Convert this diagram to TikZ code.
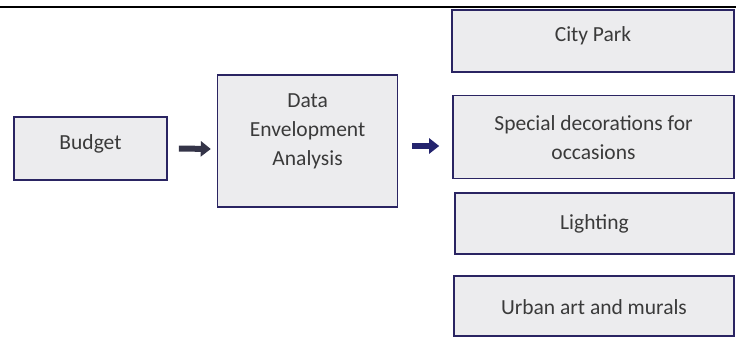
\documentclass[tikz,border=0pt]{standalone}
\usepackage{fontspec}
\setmainfont{Carlito}
\usetikzlibrary{arrows.meta, positioning}
\definecolor{boxline}{RGB}{42,36,98}
\definecolor{boxfill}{RGB}{236,236,238}
\definecolor{boxtext}{RGB}{58,58,58}
\definecolor{arrowgray}{RGB}{52,52,72}
\definecolor{arrownavy}{RGB}{36,36,110}
\tikzstyle{block} = [draw=boxline, fill=boxfill, line width=1.6pt, rectangle]
\tikzstyle{boxlabel} = [align=center, text=boxtext, inner sep=0pt,
    font=\fontsize{21.5pt}{29pt}\selectfont]
\tikzstyle{bigarrow} = [line width=6pt, -{Triangle[length=10pt, width=15pt]}]

\begin{document}
\begin{tikzpicture}[x=1pt, y=1pt]
    \useasboundingbox (0,0) rectangle (736,338);
    \draw [line width=1.4pt] (0,331) -- (736,331);

    % Place the blocks
    \node [block, minimum width=153pt, minimum height=63pt,
        label={[boxlabel, yshift=5pt]center:Budget}] (budget) at (90.5,189.5) {};
    \node [block, minimum width=180pt, minimum height=132pt, right=49pt of budget.east, anchor=west, yshift=7.5pt,
        label={[boxlabel, yshift=10pt]center:Data\\Envelopment\\Analysis}] (dea) {};
    \node [block, minimum width=282pt, minimum height=62pt,
        label={[boxlabel, yshift=5pt]center:City Park}] (park) at (593,297) {};
    \node [block, minimum width=281pt, minimum height=83pt,
        label={[boxlabel, yshift=-1pt]center:Special decorations for\\occasions}] (decor) at (593.5,201) {};
    \node [block, minimum width=279pt, minimum height=61pt,
        label={[boxlabel]center:Lighting}] (light) at (594.5,114.5) {};
    \node [block, minimum width=280pt, minimum height=60pt,
        label={[boxlabel, yshift=-1pt]center:Urban art and murals}] (murals) at (594,32) {};

    % Connect the nodes
    \draw [bigarrow, arrowgray] ([xshift=11pt]budget.east) -- ([xshift=-6pt, yshift=-8pt]dea.west);
    \draw [bigarrow, arrownavy] ([xshift=14pt, yshift=-5pt]dea.east) -- ([xshift=-13pt, yshift=-9pt]decor.west);
\end{tikzpicture}
\end{document}
